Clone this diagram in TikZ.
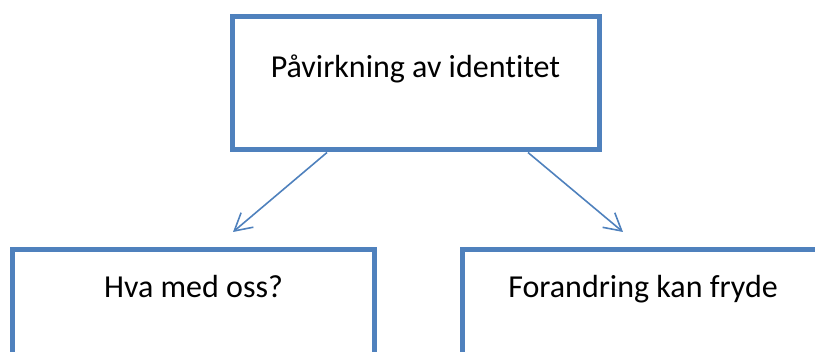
\documentclass[tikz,border=0pt]{standalone}
\usepackage{fontspec}
\setmainfont{Carlito}[Ligatures=NoCommon]
\usetikzlibrary{arrows.meta,positioning}
\definecolor{boxblue}{HTML}{4F81BD}

\begin{document}
\begin{tikzpicture}[x=1pt, y=-1pt, node distance={232.5pt}, main/.style = {draw=boxblue, line width=5pt, rectangle, inner sep=0pt, minimum height=133pt, font=\fontsize{32}{38}\selectfont, text height=20pt}, arrow/.style = {draw=boxblue, line width=1.6pt, -{Straight Barb[length=17pt, width=19pt]}}]
    \useasboundingbox (0,0) rectangle (815,352);
    \node[main, minimum width=367pt, text depth=31pt] (1) at (415.5,83.5) {Påvirkning av identitet};
    \node[main, minimum width=362pt, text depth=56pt] (2) [below of=1, xshift=-222pt] {Hva med oss?};
    \node[main, minimum width=362pt, text depth=56pt] (3) [below of=1, xshift=227.5pt] {Forandring kan fryde};
    \draw[arrow] ([xshift=-88.5pt]1.south) -- ([xshift=39.5pt, yshift=15pt]2.north);
    \draw[arrow] ([xshift=112.5pt]1.south) -- ([xshift=-20pt, yshift=15pt]3.north);
\end{tikzpicture}
\end{document}
